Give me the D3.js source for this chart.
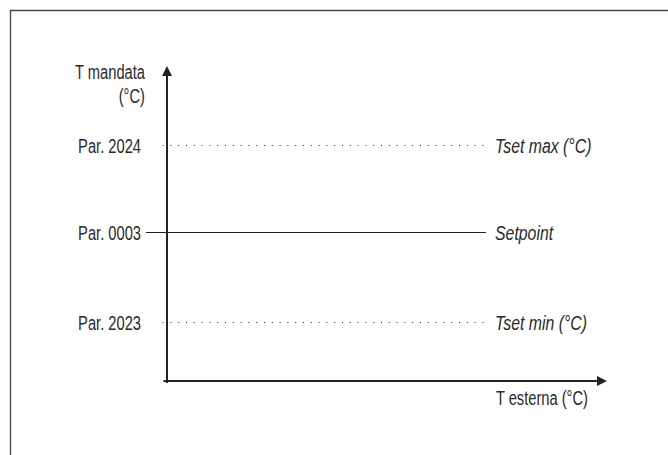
<!DOCTYPE html>
<html><head><meta charset="utf-8">
<script src="https://cdn.jsdelivr.net/npm/d3@7"></script>
<style>
html,body{margin:0;padding:0;background:#fff;}
svg{display:block;}
text{font-family:"Liberation Sans",Arial,sans-serif;fill:#2a2a2a;}
</style></head>
<body>
<script>
// Reference levels (values in arbitrary % of axis height)
const paramLabels = ["Par. 2024", "Par. 0003", "Par. 2023"];
const seriesNames = ["Tset max (°C)", "Setpoint", "Tset min (°C)"];
const levelValues = [75, 47.3, 18.7];
const lineStyles = ["dotted", "solid", "dotted"];
const lineStartX = [-1, -4.8, -1];
const lineEndX = [72.5, 72.5, 72.5];
const yAxisTitle = ["T mandata", "(°C)"];
const xAxisTitle = "T esterna (°C)";

const W = 668, H = 455;
const svg = d3.select("body").append("svg").attr("width", W).attr("height", H);

// frame
svg.append("path").attr("d", `M10.5,${H}V10.5H${W}`).attr("fill","none").attr("stroke","#444").attr("stroke-width",1.3);

const x = d3.scaleLinear().domain([0, 100]).range([167, 607]);
const y = d3.scaleLinear().domain([0, 100]).range([381, 66]);

const FS = 21, SX = 0.70, SXI = 0.755;
function label(px, py, str, anchor, italic) {
  const t = svg.append("text")
    .attr("transform", `translate(${px},${py}) scale(${italic ? SXI : SX},1)`)
    .attr("font-size", FS).attr("text-anchor", anchor).text(str);
  if (italic) t.attr("font-style", "italic");
  return t;
}

// axes
const axisColor = "#222";
svg.append("line").attr("x1", x(-0.8)).attr("x2", x(97.7)).attr("y1", y(0)).attr("y2", y(0))
  .attr("stroke", axisColor).attr("stroke-width", 2);
svg.append("line").attr("x1", x(0)).attr("x2", x(0)).attr("y1", y(-0.6)).attr("y2", y(96.8))
  .attr("stroke", axisColor).attr("stroke-width", 2);
// arrowheads
svg.append("path").attr("d", `M${x(100)},${y(0)}L${x(100)-10},${y(0)-5}L${x(100)-10},${y(0)+5}Z`).attr("fill", axisColor);
svg.append("path").attr("d", `M${x(0)},${y(100)}L${x(0)-5},${y(100)+10}L${x(0)+5},${y(100)+10}Z`).attr("fill", axisColor);

// level lines
levelValues.forEach((v, i) => {
  const yy = Math.round(y(v)) + 0.5;
  svg.append("line").attr("x1", x(lineStartX[i])).attr("x2", x(lineEndX[i])).attr("y1", yy).attr("y2", yy)
    .attr("stroke", "#222").attr("stroke-width", 1)
    .attr("stroke-dasharray", lineStyles[i] === "dotted" ? "1,6.8" : null);
  label(141, yy + 7.5, paramLabels[i], "end", false);
  label(x(lineEndX[i]) + 9, yy + 7.5, seriesNames[i], "start", true);
});

// axis titles
label(145, 79, yAxisTitle[0], "end", false);
label(145, 103, yAxisTitle[1], "end", false);
label(588, 405, xAxisTitle, "end", false);
</script>
</body></html>
